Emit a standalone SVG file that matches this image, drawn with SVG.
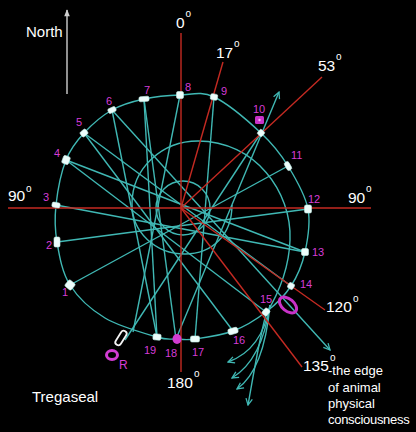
<svg xmlns="http://www.w3.org/2000/svg" width="416" height="432" viewBox="0 0 416 432">
<style>
.cy{fill:none;stroke:#40b8b4;stroke-width:1.4}
.rd{fill:none;stroke:#c42a22;stroke-width:1.4}
.st{fill:#ecfdfb;stroke:#c4f0ea;stroke-width:0.6}
.num{font-family:"Liberation Sans",Arial,sans-serif;font-size:11px;fill:#d63cd6}
.wt{font-family:"Liberation Sans",Arial,sans-serif;font-size:15.5px;fill:#ffffff}
.deg{font-family:"Liberation Sans",Arial,sans-serif;font-size:10px;fill:#ffffff}
.nt{font-family:"Liberation Sans",Arial,sans-serif;font-size:13px;fill:#ffffff}
.mg{fill:none;stroke:#c832c8;stroke-width:3}
</style>
<defs>
<marker id="ah" viewBox="0 0 10 10" refX="9" refY="5" markerWidth="8" markerHeight="8" orient="auto" markerUnits="userSpaceOnUse">
<path d="M1,1 L9,5 L1,9" fill="none" stroke="#40b8b4" stroke-width="1.6"/>
</marker>
<marker id="nh" viewBox="0 0 10 10" refX="9" refY="5" markerWidth="8" markerHeight="7" orient="auto" markerUnits="userSpaceOnUse">
<path d="M0,1 L10,5 L0,9 Z" fill="#cfcfcf"/>
</marker>
</defs>
<rect width="416" height="432" fill="#000"/>

<g id="north">
<line x1="67" y1="94" x2="67" y2="10" stroke="#cfcfcf" stroke-width="1.4" marker-end="url(#nh)"/>
<text class="wt" x="26" y="37" style="font-size:15px">North</text>
</g>

<g id="connectors">
<path class="cy" d="M70,285 C62,272.3 59.3,255.3 57,242 C54.7,228.7 54.5,218.7 56,205 C57.5,191.3 61.3,172 66,160 C70.7,148 76.3,141.3 84,133 C91.7,124.7 102,115.7 112,110 C122,104.3 132.7,101.5 144,99 C155.3,96.5 168.3,95.3 180,95 C191.7,94.7 200.5,90.7 214,97 C227.5,103.3 248.7,121.5 261,133 C273.3,144.5 280.2,153.3 288,166 C295.8,178.7 305.2,194.7 308,209 C310.8,223.3 307.8,239.2 305,252 C302.2,264.8 297.5,276 291,286 C284.5,296 275.7,304.5 266,312 C256.3,319.5 244.8,326.5 233,331 C221.2,335.5 204.5,337.7 195,339 C185.5,340.3 182.3,339.3 176,339 C169.7,338.7 168.8,340.5 157,337 C145.2,333.5 119.5,326.7 105,318 C90.5,309.3 78,297.7 70,285 Z"/>
<circle class="cy" cx="183" cy="208" r="27"/>
<path class="cy" d="M232,205 C232,235 212,254 185,254 C155,254 132,232 132,204 C132,168 162,141 198,141 C255,141 292,192 290,240 C289,272 277,296 266,314 C258,345 253,378 248,405" marker-end="url(#ah)"/>
<path class="cy" d="M270,305 Q262,350 228,362" marker-end="url(#ah)"/>
<path class="cy" d="M270,305 Q262,360 232,378" marker-end="url(#ah)"/>
<path class="cy" d="M270,305 Q264,370 237,389" marker-end="url(#ah)"/>
<line class="cy" x1="176" y1="339" x2="279" y2="92" marker-end="url(#ah)"/>
<line class="cy" x1="112" y1="110" x2="330" y2="350" marker-end="url(#ah)"/>
<line class="cy" x1="66" y1="160" x2="305" y2="252"/>
<line class="cy" x1="66" y1="160" x2="266" y2="312"/>
<line class="cy" x1="56" y1="205" x2="305" y2="252"/>
<line class="cy" x1="57" y1="242" x2="308" y2="209"/>
<line class="cy" x1="84" y1="133" x2="291" y2="286"/>
<line class="cy" x1="84" y1="133" x2="233" y2="331"/>
<line class="cy" x1="70" y1="285" x2="288" y2="166"/>
<line class="cy" x1="144" y1="99" x2="157" y2="337"/>
<line class="cy" x1="144" y1="99" x2="176" y2="339"/>
<line class="cy" x1="112" y1="110" x2="157" y2="337"/>
<line class="cy" x1="180" y1="95" x2="133" y2="332"/>
<line class="cy" x1="214" y1="97" x2="195" y2="339"/>
<line class="cy" x1="261" y1="133" x2="125" y2="340"/>
<line class="rd" x1="181" y1="33" x2="181" y2="372"/>
<line class="rd" x1="8" y1="208" x2="371" y2="208"/>
<line class="rd" x1="181" y1="208" x2="223" y2="62"/>
<line class="rd" x1="181" y1="208" x2="322" y2="77"/>
<line class="rd" x1="181" y1="208" x2="325" y2="310"/>
<line class="rd" x1="181" y1="208" x2="302" y2="367"/>
</g>

<g id="stone1"><rect class="st" x="-4" y="-4" width="8" height="8" rx="1.5" transform="translate(70,285) rotate(40)"/><text class="num" x="62" y="296">1</text></g>
<g id="stone2"><rect class="st" x="-3" y="-5" width="6" height="10" rx="1.5" transform="translate(57,242)"/><text class="num" x="46" y="249">2</text></g>
<g id="stone3"><rect class="st" x="-4" y="-2.5" width="8" height="5" rx="1.5" transform="translate(56,205) rotate(10)"/><text class="num" x="43" y="201">3</text></g>
<g id="stone4"><rect class="st" x="-3.5" y="-4" width="7" height="8" rx="1.5" transform="translate(66,160) rotate(20)"/><text class="num" x="54" y="157">4</text></g>
<g id="stone5"><rect class="st" x="-3.5" y="-3" width="7" height="6" rx="1.5" transform="translate(84,133) rotate(-40)"/><text class="num" x="76" y="126">5</text></g>
<g id="stone6"><rect class="st" x="-4" y="-2.5" width="8" height="5" rx="1.5" transform="translate(112,110) rotate(-25)"/><text class="num" x="106" y="105">6</text></g>
<g id="stone7"><rect class="st" x="-5" y="-2.5" width="10" height="5" rx="1.5" transform="translate(144,99) rotate(-5)"/><text class="num" x="144" y="94">7</text></g>
<g id="stone8"><rect class="st" x="-3.5" y="-3.5" width="7" height="7" rx="1.5" transform="translate(180,95)"/><text class="num" x="185" y="91">8</text></g>
<g id="stone9"><rect class="st" x="-3.5" y="-3" width="7" height="6" rx="1.5" transform="translate(214,97) rotate(10)"/><text class="num" x="221" y="95">9</text></g>
<g id="stone10"><rect class="st" x="-3" y="-3" width="6" height="6" rx="1.5" transform="translate(261,133) rotate(40)"/><rect x="255" y="116" width="9" height="8" rx="1.5" fill="#c832c8"/><circle cx="259.5" cy="120" r="1.2" fill="#f0b0f0"/><text class="num" x="253" y="113">10</text></g>
<g id="stone11"><rect class="st" x="-2.5" y="-4.5" width="5" height="9" rx="2" transform="translate(288,166) rotate(-30)"/><text class="num" x="291" y="159">11</text></g>
<g id="stone12"><rect class="st" x="-3.5" y="-4" width="7" height="8" rx="1.5" transform="translate(308,209)"/><text class="num" x="308" y="203">12</text></g>
<g id="stone13"><rect class="st" x="-3.5" y="-3.5" width="7" height="7" rx="1.5" transform="translate(305,252)"/><text class="num" x="312" y="256">13</text></g>
<g id="stone14"><rect class="st" x="-3" y="-3" width="6" height="6" rx="1.5" transform="translate(291,286) rotate(30)"/><text class="num" x="300" y="288">14</text></g>
<g id="stone15"><rect class="st" x="-3" y="-3.5" width="6" height="7" rx="1.5" transform="translate(266,312) rotate(40)"/><ellipse class="mg" cx="288" cy="305" rx="10" ry="6" transform="rotate(40 288 305)"/><text class="num" x="260" y="303">15</text></g>
<g id="stone16"><rect class="st" x="-5" y="-3" width="10" height="6" rx="2" transform="translate(233,331) rotate(-15)"/><text class="num" x="233" y="344">16</text></g>
<g id="stone17"><rect class="st" x="-4.5" y="-3" width="9" height="6" rx="1.5" transform="translate(195,339)"/><text class="num" x="192" y="356">17</text></g>
<g id="stone18"><ellipse cx="177" cy="339" rx="4.5" ry="5" fill="#d23cd2"/><text class="num" x="165" y="357">18</text></g>
<g id="stone19"><rect class="st" x="-4" y="-3" width="8" height="6" rx="1.5" transform="translate(157,337) rotate(5)"/><text class="num" x="144" y="354">19</text></g>
<g id="stoneR"><rect x="-3" y="-8" width="6" height="16" rx="3" fill="none" stroke="#f4f4f4" stroke-width="1.8" transform="translate(121,338) rotate(32)"/><ellipse cx="112" cy="355" rx="5.5" ry="4.5" fill="none" stroke="#d23cd2" stroke-width="3"/><text class="num" x="119" y="369" style="font-size:12px">R</text></g>

<g id="labels">
<text class="wt" x="176" y="28">0</text><text class="deg" x="185.5" y="17">o</text>
<text class="wt" x="216" y="58">17</text><text class="deg" x="234" y="47">o</text>
<text class="wt" x="318" y="71">53</text><text class="deg" x="336" y="60">o</text>
<text class="wt" x="8" y="201">90</text><text class="deg" x="26" y="192">o</text>
<text class="wt" x="348" y="203">90</text><text class="deg" x="366" y="192">o</text>
<text class="wt" x="326" y="312">120</text><text class="deg" x="353" y="302">o</text>
<text class="wt" x="303" y="371">135</text><text class="deg" x="330" y="361">o</text>
<text class="wt" x="167" y="388">180</text><text class="deg" x="194" y="377">o</text>
<text class="nt" x="328" y="375">-the edge</text>
<text class="nt" x="328" y="392">of animal</text>
<text class="nt" x="328" y="408">physical</text>
<text class="nt" x="328" y="424" style="letter-spacing:-0.3px">consciousness</text>
<text class="wt" x="32" y="402" style="font-size:15px">Tregaseal</text>
</g>
</svg>
